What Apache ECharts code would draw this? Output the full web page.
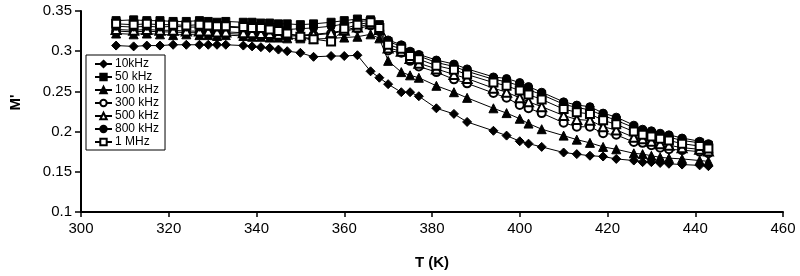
<!DOCTYPE html>
<html>
<head>
<meta charset="utf-8">
<script src="https://cdn.jsdelivr.net/npm/echarts@6/dist/echarts.min.js"></script>
<style>
  html, body { margin: 0; padding: 0; background: #fff; }
  #main { width: 800px; height: 276px; }
</style>
</head>
<body>
<div id="main"></div>
<script>
// temperatures (K)
var temps = [308, 312, 315, 318, 321, 324, 327, 329, 331, 333,
	337, 339, 341, 343, 345, 347, 350, 353, 357, 360,
	363, 366, 368, 370, 373, 375, 377, 381, 385, 388,
	394, 397, 400, 402, 405, 410, 413, 416, 419, 422,
	426, 428, 430, 432, 434, 437, 441, 443];

var m10k = [0.307, 0.306, 0.307, 0.307, 0.308, 0.308, 0.308, 0.308, 0.308, 0.308,
	0.307, 0.306, 0.305, 0.304, 0.302, 0.300, 0.298, 0.293, 0.294, 0.294,
	0.295, 0.275, 0.267, 0.259, 0.249, 0.249, 0.244, 0.229, 0.222, 0.212,
	0.201, 0.195, 0.188, 0.185, 0.181, 0.174, 0.172, 0.170, 0.169, 0.166,
	0.164, 0.162, 0.162, 0.161, 0.160, 0.159, 0.158, 0.157];

var m50k = [0.338, 0.339, 0.338, 0.338, 0.337, 0.337, 0.338, 0.337, 0.336, 0.337,
	0.336, 0.336, 0.335, 0.335, 0.334, 0.334, 0.333, 0.334, 0.336, 0.338,
	0.340, 0.339, 0.333, 0.312, 0.306, 0.298, 0.294, 0.286, 0.281, 0.275,
	0.265, 0.262, 0.257, 0.252, 0.246, 0.234, 0.230, 0.227, 0.220, 0.214,
	0.205, 0.200, 0.198, 0.195, 0.193, 0.189, 0.186, 0.183];

var m100k = [0.322, 0.321, 0.322, 0.321, 0.320, 0.321, 0.320, 0.320, 0.319, 0.320,
	0.319, 0.318, 0.318, 0.317, 0.317, 0.316, 0.316, 0.315, 0.316, 0.317,
	0.318, 0.321, 0.316, 0.288, 0.274, 0.270, 0.267, 0.257, 0.249, 0.242,
	0.229, 0.223, 0.216, 0.210, 0.203, 0.195, 0.190, 0.186, 0.181, 0.178,
	0.173, 0.172, 0.170, 0.168, 0.167, 0.166, 0.164, 0.163];

var m300k = [0.325, 0.324, 0.325, 0.324, 0.324, 0.323, 0.323, 0.323, 0.322, 0.322,
	0.321, 0.321, 0.320, 0.320, 0.319, 0.319, 0.319, 0.320, 0.322, 0.325,
	0.328, 0.332, 0.325, 0.301, 0.298, 0.288, 0.281, 0.274, 0.265, 0.260,
	0.248, 0.242, 0.233, 0.229, 0.223, 0.211, 0.206, 0.206, 0.198, 0.196,
	0.187, 0.186, 0.183, 0.180, 0.178, 0.177, 0.175, 0.173];

var m500k = [0.327, 0.326, 0.327, 0.326, 0.326, 0.325, 0.325, 0.325, 0.324, 0.324,
	0.323, 0.323, 0.322, 0.322, 0.321, 0.321, 0.320, 0.321, 0.323, 0.326,
	0.330, 0.334, 0.327, 0.304, 0.300, 0.291, 0.285, 0.278, 0.271, 0.266,
	0.254, 0.249, 0.242, 0.237, 0.231, 0.220, 0.215, 0.214, 0.206, 0.202,
	0.193, 0.191, 0.188, 0.185, 0.183, 0.180, 0.178, 0.176];

var m800k = [0.331, 0.330, 0.331, 0.330, 0.331, 0.330, 0.330, 0.331, 0.330, 0.330,
	0.329, 0.330, 0.329, 0.328, 0.328, 0.327, 0.328, 0.329, 0.331, 0.334,
	0.337, 0.338, 0.332, 0.314, 0.308, 0.300, 0.296, 0.289, 0.284, 0.278,
	0.268, 0.266, 0.261, 0.256, 0.249, 0.237, 0.233, 0.231, 0.223, 0.218,
	0.208, 0.203, 0.201, 0.198, 0.196, 0.192, 0.188, 0.185];

var m1M = [0.334, 0.333, 0.334, 0.333, 0.333, 0.332, 0.333, 0.332, 0.331, 0.331,
	0.330, 0.329, 0.329, 0.327, 0.325, 0.322, 0.318, 0.315, 0.312, 0.328,
	0.333, 0.336, 0.329, 0.308, 0.303, 0.294, 0.290, 0.282, 0.277, 0.271,
	0.261, 0.257, 0.251, 0.246, 0.240, 0.228, 0.224, 0.222, 0.214, 0.209,
	0.200, 0.196, 0.194, 0.191, 0.189, 0.185, 0.182, 0.179];

var seriesNames = ['10kHz', '50 kHz', '100 kHz', '300 kHz', '500 kHz', '800 kHz', '1 MHz'];
var seriesValues = [m10k, m50k, m100k, m300k, m500k, m800k, m1M];
var seriesSymbols = ['diamond', 'rect', 'triangle', 'emptyCircle', 'emptyTriangle', 'circle', 'emptyRect'];
var seriesSizes = [9, 8, 9, 8, 9, 8, 8];

function pairs(vals) {
	var out = [];
	for (var i = 0; i < temps.length; i++) out.push([temps[i], vals[i]]);
	return out;
}

var myChart = echarts.init(document.getElementById('main'), null, { renderer: 'canvas' });

var series = [];
for (var s = 0; s < seriesNames.length; s++) {
	series.push({
		name: seriesNames[s],
		type: 'line',
		data: pairs(seriesValues[s]),
		symbol: seriesSymbols[s],
		symbolSize: seriesSizes[s],
		showAllSymbol: true,
		lineStyle: { color: '#000', width: 1 },
		itemStyle: { color: '#000', borderColor: '#000', borderWidth: 1 },
		emphasis: { disabled: true },
		animation: false
	});
}

var axisFont = { color: '#000', fontFamily: 'Liberation Sans', fontSize: 15 };

var option = {
	animation: false,
	backgroundColor: '#fff',
	grid: { left: 71, right: 17, top: 11, bottom: 64 },
	legend: {
		orient: 'vertical',
		left: 86,
		top: 55,
		padding: [3, 6, 2, 8],
		itemGap: 1,
		itemWidth: 17,
		itemHeight: 8,
		borderColor: '#000',
		borderWidth: 1,
		backgroundColor: '#fff',
		textStyle: { color: '#000', fontFamily: 'Liberation Sans', fontSize: 12, lineHeight: 12, padding: [0, 0, 0, -2] },
		data: seriesNames
	},
	xAxis: {
		type: 'value',
		min: 300,
		max: 460,
		interval: 20,
		name: 'T (K)',
		nameLocation: 'middle',
		nameGap: 43,
		nameTextStyle: { color: '#000', fontFamily: 'Liberation Sans', fontSize: 15, fontWeight: 'bold' },
		axisLine: { onZero: false, lineStyle: { color: '#000', width: 2 } },
		axisTick: { inside: false, length: 5, lineStyle: { color: '#000', width: 1.5 } },
		axisLabel: Object.assign({ margin: 9 }, axisFont),
		splitLine: { show: false }
	},
	yAxis: {
		type: 'value',
		min: 0.1,
		max: 0.35,
		interval: 0.05,
		name: "M'",
		nameLocation: 'middle',
		nameGap: 58,
		nameTextStyle: { color: '#000', fontFamily: 'Liberation Sans', fontSize: 15, fontWeight: 'bold', padding: [0, 0, 0, 18] },
		axisLine: { show: true, lineStyle: { color: '#000', width: 2 } },
		axisTick: { show: true, inside: false, length: 6, lineStyle: { color: '#000', width: 1.5 } },
		axisLabel: Object.assign({ margin: 9 }, axisFont),
		splitLine: { show: false }
	},
	series: series
};

myChart.setOption(option);
</script>
</body>
</html>
